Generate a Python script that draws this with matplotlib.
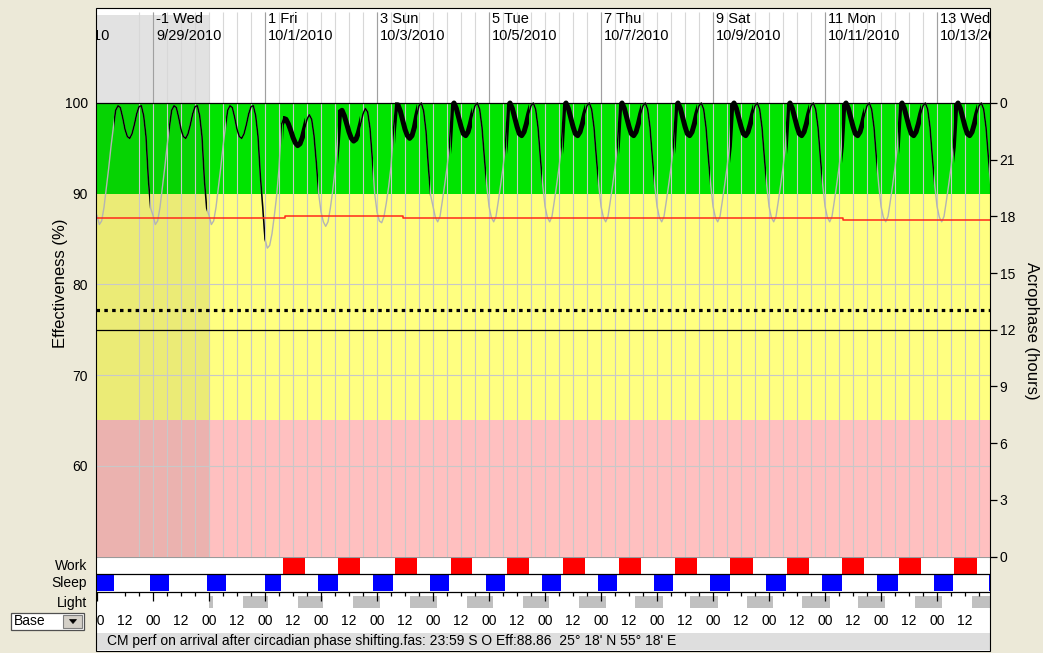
import numpy as np
import matplotlib
matplotlib.use("Agg")
import matplotlib.pyplot as plt
import matplotlib.transforms as mtransforms
from matplotlib.patches import Rectangle, Polygon
from matplotlib.path import Path

plt.rcParams['font.family'] = ['Liberation Sans', 'DejaVu Sans']

W, H, DPI = 1043, 653, 100

# ---------------- data (hours are relative to day 0 = Thu 9/30/2010 00:00) ----------------
START_HOUR = -48          # first hourly sample: Tue 9/28/2010 00:00

# hourly effectiveness (%) for one day, hour 0..23
PRE_SHIFT = [87.6, 86.6, 87.0, 88.5, 90.6, 92.8, 95.2, 97.3, 99.2, 99.7, 99.5, 98.4,
             97.1, 96.3, 96.1, 96.6, 97.6, 98.8, 99.6, 99.7, 98.6, 96.3, 91.6, 88.4]
DAY0 = [87.6, 86.6, 87.0, 88.5, 90.6, 92.8, 95.2, 97.3, 99.2, 99.7, 99.5, 98.4,
        97.1, 96.3, 96.1, 96.6, 97.6, 98.8, 99.6, 99.7, 98.6, 96.3, 92.0, 88.6]
ARRIVAL_DAY1 = [85.0, 84.0, 84.3, 85.6, 87.6, 89.8, 92.8, 97.6, 98.3, 98.2, 97.7, 97.0,
                96.2, 95.6, 95.3, 95.5, 96.2, 97.2, 98.2, 98.7, 98.2, 96.4, 93.4, 90.0]
DAY2 = [88.0, 86.9, 86.4, 86.9, 88.4, 90.3, 92.6, 95.6, 99.0, 99.2, 98.6, 97.7,
        96.8, 96.1, 95.8, 96.0, 96.7, 97.7, 98.8, 99.4, 99.0, 97.2, 93.8, 90.0]
DAY3 = [88.0, 87.0, 86.8, 87.5, 89.0, 90.8, 93.0, 96.8, 99.8, 99.8, 99.1, 98.1,
        97.1, 96.4, 96.1, 96.4, 97.3, 98.6, 99.7, 100.0, 99.1, 96.9, 93.0, 89.8]
STEADY = [88.6, 87.4, 86.9, 87.5, 89.2, 91.0, 92.9, 95.2, 99.6, 100.0, 99.4, 98.4,
          97.4, 96.6, 96.4, 96.8, 97.7, 98.8, 99.7, 100.0, 99.3, 97.3, 94.0, 91.0]
DAY_PROFILES = [PRE_SHIFT, PRE_SHIFT, DAY0, ARRIVAL_DAY1, DAY2, DAY3] + [STEADY] * 10

SLEEP_ON = [-49.3, -25.3, -1.0, 24.0, 46.6, 70.4, 94.5, 118.5, 142.6, 166.6, 190.6,
            214.5, 238.6, 262.6, 286.4, 310.5, 334.2]
SLEEP_OFF = [-40.8, -17.1, 7.2, 30.9, 55.3, 78.8, 103.0, 127.0, 151.0, 175.0, 199.0,
             223.2, 247.1, 271.3, 295.1, 319.0, 343.0]
WORK_ON = [31.9, 55.4, 79.7, 103.6, 127.7, 151.7, 175.9, 199.7, 223.3, 247.6, 271.4,
           295.7, 319.4]
WORK_OFF = [41.1, 64.7, 89.0, 112.9, 137.0, 161.0, 185.0, 209.0, 233.0, 257.3, 280.9,
            305.1, 329.0]
DARK_ON = [0.0, 14.4, 38.3, 61.9, 86.1, 110.4, 134.4, 158.5, 182.6, 206.1, 230.4,
           254.0, 278.3, 302.6, 326.9]
DARK_OFF = [1.8, 25.4, 49.0, 73.3, 97.6, 121.7, 145.8, 170.0, 194.7, 218.3, 241.8,
            266.1, 289.7, 314.0, 338.0]

# acrophase (hours), step changes
ACRO_T = [-48.4, 32.6, 83.3, 139.0, 271.7]
ACRO_H = [17.94, 18.01, 17.93, 17.89, 17.83]

CRITERION_SOLID = 75.0
CRITERION_DOTTED = 77.2

DAY_NUMS = [-3, -1, 1, 3, 5, 7, 9, 11, 13]
DAY_NAMES = ["Mon", "Wed", "Fri", "Sun", "Tue", "Thu", "Sat", "Mon", "Wed"]
DAY_DATES = ["9/27/2010", "9/29/2010", "10/1/2010", "10/3/2010", "10/5/2010",
             "10/7/2010", "10/9/2010", "10/11/2010", "10/13/2010"]

EFF_TICKS = [60, 70, 80, 90, 100]
ACRO_TICKS = [0, 3, 6, 9, 12, 15, 18, 21, 24]
ACRO_LABELS = ["0", "3", "6", "9", "12", "15", "18", "21", "0"]
HOUR_LABEL_POS = list(range(-48, 325, 12))
HOUR_LABELS = ["00" if p % 24 == 0 else "12" for p in HOUR_LABEL_POS]

STATUS = "CM perf on arrival after circadian phase shifting.fas: 23:59 S O Eff:88.86  25\u00b0 18' N 55\u00b0 18' E"

# ---------------- layout ----------------
T0, T1 = -48.43, 334.7
GREEN, YELLOW, PINK = '#00e400', '#ffff80', '#ffc0c0'

fig = plt.figure(figsize=(W / DPI, H / DPI), dpi=DPI, facecolor='#ece9d8')


def fx(px):
    return px / W


def fy(py):
    return 1 - py / H


def px_axes(x0, y0, x1, y1):
    return fig.add_axes([fx(x0), fy(y1), (x1 - x0) / W, (y1 - y0) / H])


def fig_rect(x0, y0, x1, y1, **kw):
    r = Rectangle((fx(x0), fy(y1)), (x1 - x0) / W, (y1 - y0) / H,
                  transform=fig.transFigure, **kw)
    fig.add_artist(r)
    return r


def span_path(starts, ends):
    verts, codes = [], []
    for s, e in zip(starts, ends):
        verts += [(s, 0), (e, 0), (e, 200), (s, 200), (s, 0)]
        codes += [Path.MOVETO, Path.LINETO, Path.LINETO, Path.LINETO, Path.CLOSEPOLY]
    return Path(verts, codes)


# panel background and status bar
fig_rect(95.5, 7.5, 990.5, 650.5, facecolor='white', edgecolor='none', zorder=-5)
fig_rect(96, 633, 990, 650, facecolor='#dedede', edgecolor='none', zorder=-4)

# ---------------- main effectiveness chart ----------------
ax = px_axes(96, 12.3, 990, 556.5)
ax.set_xlim(T0, T1)
ax.set_ylim(50, 110)
for s in ax.spines.values():
    s.set_visible(False)
ax.set_xticks([])
ax.set_yticks(EFF_TICKS)
ax.tick_params(axis='y', length=0, pad=6, labelsize=10)

ax.axhspan(90, 100, color=GREEN, lw=0, zorder=0.5)
ax.axhspan(65, 90, color=YELLOW, lw=0, zorder=0.5)
ax.axhspan(50, 65, color=PINK, lw=0, zorder=0.5)

# pre-trip shading
ax.add_patch(Rectangle((T0, 100), 0 - T0, 9.7, facecolor='#e2e2e2', lw=0, zorder=0.6))
ax.add_patch(Rectangle((T0, 50), 0 - T0, 50, facecolor='#404020', alpha=0.1, lw=0, zorder=0.6))

grid_t = np.arange(-30, T1, 6)
ax.vlines(grid_t, 50, 100, color='#c8c8c8', lw=0.8, zorder=1)
ax.vlines(grid_t, 100, 110, color='#d8d8d8', lw=0.8, zorder=1)
ax.vlines([24 * d for d in DAY_NUMS], 100, 110, color='#a0a0a0', lw=0.8, zorder=1.1)
ax.hlines([60, 70, 80], T0, T1, color='#c8c8c8', lw=0.8, zorder=1)
ax.axhline(100, color='black', lw=0.9, zorder=2)

ax.axhline(CRITERION_SOLID, color='black', lw=0.9, zorder=2)
ax.axhline(CRITERION_DOTTED, color='black', lw=2.3, ls=(0, (1.1, 1.35)), zorder=2)

eff = np.concatenate(DAY_PROFILES)
hours = START_HOUR + np.arange(len(eff))

ax.plot(hours, eff, color='#b4b4b4', lw=1.0, zorder=3)
wake = ax.plot(hours, eff, color='black', lw=1.1, zorder=4)[0]
wake.set_clip_path(span_path(SLEEP_OFF[:-1], SLEEP_ON[1:]), ax.transData)
work = ax.plot(hours, eff, color='black', lw=3.6, zorder=5,
               solid_joinstyle='round', solid_capstyle='butt')[0]
work.set_clip_path(span_path(WORK_ON, WORK_OFF), ax.transData)

# day / date header labels
lab_tr = mtransforms.offset_copy(
    mtransforms.blended_transform_factory(ax.transData, fig.transFigure),
    fig=fig, x=3, y=0, units='dots')
for d, name, date in zip(DAY_NUMS, DAY_NAMES, DAY_DATES):
    ax.text(24 * d, fy(23), f"{d} {name}", transform=lab_tr, ha='left',
            va='baseline', fontsize=10.5, clip_on=True, zorder=6)
    ax.text(24 * d, fy(40), date, transform=lab_tr, ha='left',
            va='baseline', fontsize=10.5, clip_on=True, zorder=6)

# acrophase axis
ax2 = ax.twinx()
ax2.set_ylim(0, 28.8)
for s in ax2.spines.values():
    s.set_visible(False)
ax2.set_xticks([])
ax2.set_yticks(ACRO_TICKS)
ax2.set_yticklabels(ACRO_LABELS)
ax2.tick_params(axis='y', length=5, width=0.9, pad=2, labelsize=10, direction='out')
ax2.plot(ACRO_T + [T1], ACRO_H + [ACRO_H[-1]], drawstyle='steps-post',
         color='#ff2a1a', lw=1.1)

fig.text(fx(60), fy(283), "Effectiveness (%)", rotation=90, ha='center', va='center',
         fontsize=12)
fig.text(fx(1032), fy(331), "Acrophase (hours)", rotation=270, ha='center',
         va='center', fontsize=12)

# ---------------- schedule rows ----------------
axr = px_axes(96, 556.5, 990, 633)
axr.set_xlim(T0, T1)
axr.set_ylim(633, 556.5)
axr.axis('off')
axr.add_patch(Rectangle((0, 0), 1, 1, transform=axr.transAxes, facecolor='white',
                        lw=0, zorder=0))

axr.broken_barh([(s, e - s) for s, e in zip(WORK_ON, WORK_OFF)], (557.8, 15.8),
                facecolors='#ff0000', lw=0, zorder=1)
axr.broken_barh([(s, e - s) for s, e in zip(SLEEP_ON, SLEEP_OFF)], (574.8, 16.5),
                facecolors='#0000ff', lw=0, zorder=1)
axr.broken_barh([(s, e - s) for s, e in zip(DARK_ON, DARK_OFF)], (596.5, 12),
                facecolors='#c0c0c0', lw=0, zorder=1)

axr.axhline(557.0, color='#9a9a9a', lw=0.8, zorder=2)
axr.axhline(574.3, color='black', lw=0.9, zorder=2)
axr.axhline(591.7, color='black', lw=0.9, zorder=2)

tick_t = np.arange(-36, T1, 6)
short = [t for t in tick_t if t % 24 != 0]
long_ = [t for t in np.arange(-48, T1, 24)]
axr.vlines(short, 591.7, 596.5, color='black', lw=0.9, zorder=2)
axr.vlines(long_, 591.7, 601.5, color='black', lw=0.9, zorder=2)

for p, lab in zip(HOUR_LABEL_POS, HOUR_LABELS):
    axr.text(p, 625, lab, ha='center', va='baseline', fontsize=10, clip_on=True,
             zorder=3)

for name, base in (("Work", 570), ("Sleep", 587), ("Light", 606.5)):
    fig.text(fx(87), fy(base), name, ha='right', va='baseline', fontsize=10)

fig.text(fx(107), fy(645.5), STATUS, ha='left', va='baseline', fontsize=10)

# ---------------- selector box ----------------
fig_rect(11, 613, 84, 630, facecolor='white', edgecolor='#505050', lw=0.9, zorder=5)
fig_rect(63, 615, 82, 628, facecolor='#d4d0c8', edgecolor='#808080', lw=0.8, zorder=6)
fig.add_artist(Polygon([(fx(69.5), fy(619.5)), (fx(76.5), fy(619.5)), (fx(73), fy(623.5))],
                       closed=True, transform=fig.transFigure, facecolor='black',
                       edgecolor='black', lw=0.5, zorder=7))
fig.text(fx(14), fy(625), "Base", ha='left', va='baseline', fontsize=10, zorder=7)

# outer frame
fig_rect(95.5, 7.5, 990.5, 650.5, fill=False, edgecolor='black', lw=0.8, zorder=20)

fig.savefig("out.png", dpi=DPI, facecolor=fig.get_facecolor())
